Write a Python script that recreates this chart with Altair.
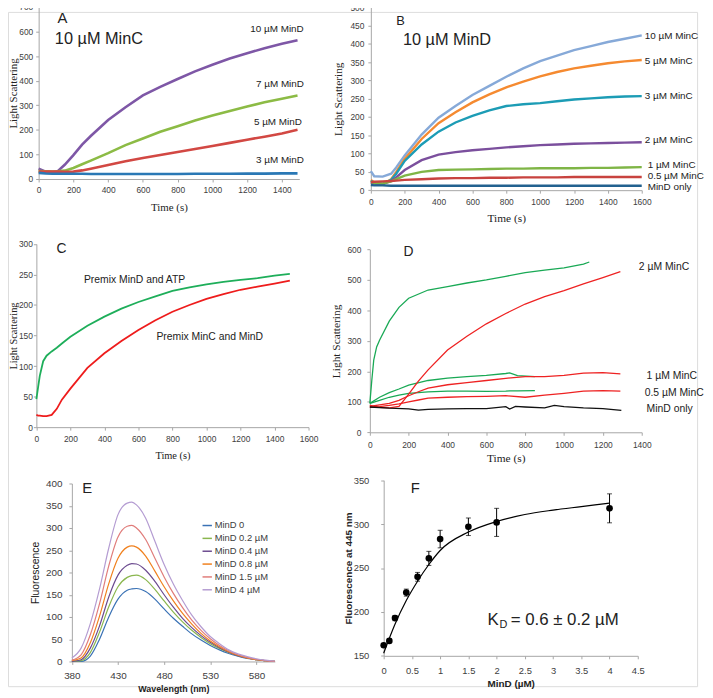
import altair as alt
import pandas as pd

# ---------------- data ----------------
# Panel A : 10 uM MinC, varying MinD
A_TIME = [0, 40, 80, 110, 150, 200, 250, 300, 400, 500, 600, 700, 800, 900, 1000, 1100, 1200, 1300, 1400, 1490]
A_MIND10 = [42, 30, 27, 32, 58, 97, 140, 175, 240, 292, 340, 375, 407, 438, 465, 490, 512, 532, 550, 565]
A_MIND7 = [32, 31, 30, 31, 34, 45, 60, 75, 105, 138, 165, 192, 215, 238, 258, 277, 295, 312, 327, 340]
A_MIND5 = [30, 30, 30, 30, 29, 30, 35, 42, 57, 72, 85, 98, 110, 122, 134, 147, 160, 172, 185, 200]
A_MIND3 = [25, 22, 21, 21, 21, 21, 21, 20, 20, 20, 20, 20, 20, 21, 21, 21, 22, 22, 23, 23]
A_NAMES = ["10 µM MinD", "7 µM MinD", "5 µM MinD", "3 µM MinD"]
A_COLORS = ["#7E57A6", "#8CBB45", "#D24843", "#2A78B5"]

# Panel B : 10 uM MinD, varying MinC
B_TIME = [0, 20, 70, 120, 150, 200, 300, 400, 500, 600, 700, 800, 900, 1000, 1100, 1200, 1300, 1400, 1500, 1600]
B_MINC10 = [52, 38, 37, 45, 62, 95, 152, 198, 230, 260, 285, 310, 333, 353, 368, 383, 394, 405, 414, 423]
B_MINC5 = [28, 22, 17, 30, 50, 85, 140, 183, 213, 240, 262, 281, 297, 311, 323, 333, 340, 347, 352, 356]
B_MINC3 = [25, 20, 17, 28, 45, 80, 125, 160, 185, 203, 218, 230, 235, 238, 243, 248, 251, 254, 256, 257]
B_MINC2 = [20, 18, 17, 25, 35, 55, 82, 97, 104, 109, 113, 117, 120, 123, 125, 127, 128, 129, 130, 131]
B_MINC1 = [22, 20, 18, 24, 30, 40, 50, 55, 56, 57, 58, 59, 59, 60, 60, 60, 61, 61, 62, 63]
B_MINC05 = [22, 23, 24, 25, 26, 28, 30, 32, 33, 33, 34, 34, 35, 35, 35, 36, 36, 36, 36, 36]
B_MINDONLY = [14, 13, 13, 12, 12, 12, 12, 12, 12, 12, 12, 12, 12, 12, 12, 12, 12, 12, 12, 12]
B_NAMES = ["10 µM MinC", "5 µM MinC", "3 µM MinC", "2 µM MinC", "1 µM MinC", "0.5 µM MinC", "MinD only"]
B_COLORS = ["#86A9D8", "#F58A30", "#1C9CB5", "#7B4F9D", "#7FB546", "#C8433F", "#22618F"]

# Panel C : premix order
C_TIME = [0, 10, 20, 40, 60, 90, 120, 150, 200, 300, 400, 500, 600, 700, 800, 900, 1000, 1100, 1200, 1300, 1400, 1490]
C_ATP = [46, 65, 84, 108, 117, 124, 130, 137, 148, 166, 181, 194, 205, 214, 223, 229, 234, 238, 241, 244, 248, 251]
C_MINC = [20, 19, 19, 18, 18, 20, 30, 45, 63, 97, 121, 141, 159, 175, 189, 200, 210, 218, 225, 230, 235, 240]
C_NAMES = ["Premix MinD and ATP", "Premix MinC and MinD"]
C_COLORS = ["#1EAE5A", "#EE1C1C"]

# Panel D
D_TIME_G2 = [0, 10, 20, 35, 50, 100, 150, 200, 300, 400, 500, 600, 700, 800, 900, 1000, 1100, 1130]
D_GREEN2 = [95, 170, 237, 280, 302, 365, 410, 440, 467, 478, 490, 500, 512, 524, 532, 540, 552, 559]
D_TIME_G = [0, 50, 100, 150, 200, 300, 400, 500, 600, 700, 720, 760, 850]
D_GREEN1 = [95, 115, 130, 142, 155, 170, 178, 183, 187, 193, 195, 186, 183]
D_GREEN05 = [95, 105, 115, 122, 128, 133, 135, 135, 134, 135, 136, 136, 137]
D_TIME_R = [0, 50, 100, 150, 200, 250, 300, 400, 500, 600, 700, 800, 900, 1000, 1100, 1200, 1290]
D_RED2 = [88, 82, 80, 85, 125, 168, 205, 270, 315, 356, 390, 421, 445, 465, 487, 508, 527]
D_RED1 = [85, 90, 95, 105, 120, 133, 145, 156, 163, 170, 177, 183, 183, 187, 194, 196, 192]
D_RED05 = [82, 84, 88, 93, 100, 106, 112, 115, 117, 118, 120, 115, 122, 128, 135, 137, 135]
D_TIME_K = [0, 100, 200, 250, 300, 400, 500, 600, 700, 720, 750, 800, 900, 950, 1000, 1100, 1200, 1295]
D_BLACK = [83, 79, 77, 73, 75, 77, 78, 78, 84, 76, 85, 83, 80, 88, 84, 80, 78, 72]
D_GROUPS = ["ATP", "MinC", "none"]
D_COLORS = ["#19A955", "#EE2222", "#111111"]

# Panel E : emission spectra
E_WAVE = [380, 390, 400, 410, 420, 430, 440, 445, 450, 460, 470, 480, 490, 500, 510, 520, 530, 540, 550, 560, 570, 580, 590, 600]
E_M0 = [0, 0, 12, 50, 100, 140, 160, 163, 164, 157, 140, 118, 97, 79, 62, 48, 36, 26, 18, 12, 7, 4, 2, 0]
E_M02 = [0, 2, 20, 66, 123, 168, 189, 193, 194, 184, 162, 136, 111, 89, 70, 54, 40, 29, 20, 13, 8, 4, 2, 0]
E_M04 = [0, 4, 30, 80, 145, 194, 216, 220, 219, 205, 180, 150, 122, 97, 76, 58, 43, 31, 21, 13, 8, 4, 2, 0]
E_M08 = [2, 8, 42, 102, 175, 232, 257, 260, 257, 237, 203, 168, 136, 108, 84, 63, 46, 33, 22, 14, 8, 4, 2, 0]
E_M15 = [3, 15, 60, 130, 215, 280, 304, 306, 300, 274, 232, 190, 153, 121, 93, 70, 51, 36, 24, 15, 9, 5, 2, 0]
E_M4 = [8, 30, 85, 163, 255, 330, 356, 358, 352, 322, 270, 218, 174, 137, 104, 78, 56, 40, 26, 17, 11, 6, 3, 1]
E_NAMES = ["MinD 0", "MinD 0.2  µM", "MinD 0.4  µM", "MinD 0.8  µM", "MinD 1.5  µM", "MinD 4 µM"]
E_COLORS = ["#3A72B5", "#8AB64E", "#6B4A8F", "#F0801E", "#E07C7A", "#B49CD2"]

# Panel F : binding curve
F_MIND = [0, 0.1, 0.2, 0.4, 0.6, 0.8, 1.0, 1.5, 2.0, 4.0]
F_FLUOR = [162, 167, 193, 222, 240, 261, 283, 297, 302, 318]
F_ERR = [0, 2, 3, 4, 5, 8, 10, 10, 16, 16.5]
F_FIT_X = [0, 0.1, 0.2, 0.4, 0.6, 0.8, 1.0, 1.5, 2.0, 2.5, 3.0, 3.5, 4.0]
F_FIT_Y = [153, 170, 186, 213, 235, 254, 270, 291, 303, 311, 316, 320, 324]

# ---------------- layout ----------------
W, H = 697, 682
OFF = 8
AX = "#A6A6A6"
LAB = "#404040"
SANS = "Liberation Sans"
SERIF = "Liberation Serif"


def c(p):
    return p - OFF


# axis positions (page pixels) of each panel
GEO = {
    "A": dict(x0=39, x1=302.6, xdom=[0, 1500], y0=177, y1=3, ydom=[0, 700]),
    "B": dict(x0=375, x1=649, xdom=[0, 1600], y0=188.3, y1=3.3, ydom=[0, 500]),
    "C": dict(x0=36.7, x1=312, xdom=[0, 1600], y0=428, y1=242.7, ydom=[0, 300]),
    "D": dict(x0=374, x1=649, xdom=[0, 1400], y0=433.2, y1=248.3, ydom=[0, 600]),
    "E": dict(x0=72.6, x1=277.9, xdom=[380, 600], y0=665, y1=485, ydom=[0, 400]),
    "F": dict(x0=388, x1=645, xdom=[0, 4.5], y0=659.3, y1=481.7, ydom=[150, 350]),
}


def scales(g):
    xs = alt.Scale(domain=g["xdom"], range=[c(g["x0"]), c(g["x1"])], nice=False, zero=False)
    ys = alt.Scale(domain=g["ydom"], range=[c(g["y0"]), c(g["y1"])], nice=False, zero=False)
    return xs, ys


def axes(g, xvals, yvals, xtitle, ytitle, lsize, tfont, tsize, tweight,
         xlpad, xtpad, ylpad, ytpad, fmt="d", xtsize=None, xtweight=None):
    xa = alt.Axis(orient="bottom", offset=c(g["y0"]) - H, values=xvals, title=xtitle, format=fmt,
                  grid=False, domainColor=AX, tickColor=AX, tickSize=3, labelFont=SANS,
                  labelFontSize=lsize, labelColor=LAB, labelPadding=xlpad, labelFlush=False,
                  labelOverlap=False, titleFont=tfont, titleFontSize=xtsize or tsize,
                  titleFontWeight=xtweight or tweight, titleColor="#222222", titlePadding=xtpad)
    ya = alt.Axis(orient="left", offset=-c(g["x0"]), values=yvals, title=ytitle, format="d",
                  grid=False, domainColor=AX, tickColor=AX, tickSize=3, labelFont=SANS,
                  labelFontSize=lsize, labelColor=LAB, labelPadding=ylpad, labelFlush=False,
                  labelOverlap=False, titleFont=tfont, titleFontSize=tsize, titleFontWeight=tweight,
                  titleColor="#222222", titlePadding=ytpad)
    return xa, ya


def long_df(t, series, names):
    rows = []
    for name, vals in zip(names, series):
        for ti, v in zip(t, vals):
            rows.append({"t": ti, "v": v, "s": name})
    return pd.DataFrame(rows)


def text_layer(g, ax, rows, size, font=SANS, align="center", color="#222222", weight="normal"):
    xs, ys = scales(g)
    xa, ya = ax
    df = pd.DataFrame(rows, columns=["t", "v", "label"])
    return alt.Chart(df).mark_text(align=align, baseline="middle", font=font, fontSize=size,
                                   color=color, fontWeight=weight).encode(
        x=alt.X("t:Q", scale=xs, axis=xa),
        y=alt.Y("v:Q", scale=ys, axis=ya),
        text="label:N")


# ---------- Panel A ----------
g = GEO["A"]
xs, ys = scales(g)
ax = axes(g, list(range(0, 1401, 200)), list(range(0, 701, 100)), "Time (s)", "Light Scattering",
          8.5, SERIF, 11, "normal", 4, 7, 3, 0)
dfA = long_df(A_TIME, [A_MIND10, A_MIND7, A_MIND5, A_MIND3], A_NAMES)
lineA = alt.Chart(dfA).mark_line(strokeWidth=2.6).encode(
    x=alt.X("t:Q", scale=xs, axis=ax[0]), y=alt.Y("v:Q", scale=ys, axis=ax[1]),
    color=alt.Color("s:N", scale=alt.Scale(domain=A_NAMES, range=A_COLORS), legend=None),
    detail="s:N")
panelA = alt.layer(
    lineA,
    text_layer(g, ax, [(1372, 611, "10 µM MinD"), (1389, 386, "7 µM MinD"), (1377, 233, "5 µM MinD"),
                       (1389, 76, "3 µM MinD")], 10),
    text_layer(g, ax, [(137, 656, "A")], 15),
    text_layer(g, ax, [(347, 571, "10 µM MinC")], 16.5),
)

# ---------- Panel B ----------
g = GEO["B"]
xs, ys = scales(g)
ax = axes(g, list(range(0, 1601, 200)), list(range(0, 501, 50)), "Time (s)", "Light Scattering",
          8.5, SERIF, 11.5, "normal", 4, 7, 4, 6)
dfB = long_df(B_TIME, [B_MINC10, B_MINC5, B_MINC3, B_MINC2, B_MINC1, B_MINC05, B_MINDONLY], B_NAMES)
lineB = alt.Chart(dfB).mark_line(strokeWidth=2.4).encode(
    x=alt.X("t:Q", scale=xs, axis=ax[0]), y=alt.Y("v:Q", scale=ys, axis=ax[1]),
    color=alt.Color("s:N", scale=alt.Scale(domain=B_NAMES, range=B_COLORS), legend=None),
    detail="s:N")
panelB = alt.layer(
    lineB,
    text_layer(g, ax, [(1618, 422, "10 µM MinC"), (1618, 354, "5 µM MinC"), (1618, 257, "3 µM MinC"),
                       (1618, 136, "2 µM MinC"), (1635, 68, "1 µM MinC"), (1635, 38.6, "0.5 µM MinC"),
                       (1635, 8.9, "MinD only")], 10, align="left"),
    text_layer(g, ax, [(175, 462, "B")], 13),
    text_layer(g, ax, [(450, 411, "10 µM MinD")], 16.5),
)

# ---------- Panel C ----------
g = GEO["C"]
xs, ys = scales(g)
ax = axes(g, list(range(0, 1601, 200)), list(range(0, 301, 50)), "Time (s)", "Light Scattering",
          8.5, SERIF, 10.5, "normal", 5, 7, 1, 0)
dfC = long_df(C_TIME, [C_ATP, C_MINC], C_NAMES)
lineC = alt.Chart(dfC).mark_line(strokeWidth=1.8).encode(
    x=alt.X("t:Q", scale=xs, axis=ax[0]), y=alt.Y("v:Q", scale=ys, axis=ax[1]),
    color=alt.Color("s:N", scale=alt.Scale(domain=C_NAMES, range=C_COLORS), legend=None),
    detail="s:N")
panelC = alt.layer(
    lineC,
    text_layer(g, ax, [(577, 241, "Premix MinD and ATP"), (1019, 147, "Premix MinC and MinD")], 10.5),
    text_layer(g, ax, [(147, 291, "C")], 14),
)

# ---------- Panel D ----------
g = GEO["D"]
xs, ys = scales(g)
ax = axes(g, list(range(0, 1401, 200)), list(range(0, 601, 100)), "Time (s)", "Light Scattering",
          8.5, SERIF, 11.5, "normal", 5, 4, 6, 6)
dD = []
for t, vals, name, grp in [(D_TIME_G2, D_GREEN2, "g2", "ATP"), (D_TIME_G, D_GREEN1, "g1", "ATP"),
                           (D_TIME_G, D_GREEN05, "g05", "ATP"), (D_TIME_R, D_RED2, "r2", "MinC"),
                           (D_TIME_R, D_RED1, "r1", "MinC"), (D_TIME_R, D_RED05, "r05", "MinC"),
                           (D_TIME_K, D_BLACK, "k", "none")]:
    for ti, v in zip(t, vals):
        dD.append({"t": ti, "v": v, "s": name, "grp": grp})
dfD = pd.DataFrame(dD)
lineD = alt.Chart(dfD).mark_line(strokeWidth=1.3).encode(
    x=alt.X("t:Q", scale=xs, axis=ax[0]), y=alt.Y("v:Q", scale=ys, axis=ax[1]),
    color=alt.Color("grp:N", scale=alt.Scale(domain=D_GROUPS, range=D_COLORS), legend=None),
    detail="s:N")
panelD = alt.layer(
    lineD,
    text_layer(g, ax, [(1385, 542, "2 µM MinC"), (1425, 185, "1 µM MinC"), (1415, 130, "0.5 µM MinC"),
                       (1425, 75, "MinD only")], 10.5, align="left"),
    text_layer(g, ax, [(199, 590, "D")], 14),
)

# ---------- Panel E ----------
g = GEO["E"]
xs, ys = scales(g)
ax = axes(g, list(range(380, 581, 50)), list(range(0, 401, 50)), "Wavelength (nm)", "Fluorescence",
          10, SANS, 10.5, "normal", 6, 4, 7, 5, xtsize=9, xtweight="bold")
dfE = long_df(E_WAVE, [E_M0, E_M02, E_M04, E_M08, E_M15, E_M4], E_NAMES)
lineE = alt.Chart(dfE).mark_line(strokeWidth=1.2, interpolate="monotone").encode(
    x=alt.X("t:Q", scale=xs, axis=ax[0]), y=alt.Y("v:Q", scale=ys, axis=ax[1]),
    color=alt.Color("s:N", scale=alt.Scale(domain=E_NAMES, range=E_COLORS),
                    legend=alt.Legend(orient="none", legendX=c(204), legendY=c(522), title=None,
                                      symbolType="stroke", symbolSize=90, symbolStrokeWidth=1.5,
                                      labelFont=SANS, labelFontSize=9.5, labelColor=LAB,
                                      rowPadding=3, labelOffset=2)),
    detail="s:N")
panelE = alt.layer(lineE, text_layer(g, ax, [(396.5, 389, "E")], 15))

# ---------- Panel F ----------
g = GEO["F"]
xs, ys = scales(g)
ax = axes(g, [0, 0.5, 1, 1.5, 2, 2.5, 3, 3.5, 4, 4.5], list(range(150, 351, 50)), "MinD (µM)",
          "Fluorescence at 445 nm", 9.5, SANS, 10, "bold", 7, 4, 12, 0, fmt="~g")
dfF = pd.DataFrame({"t": F_MIND, "v": F_FLUOR, "lo": [a - b for a, b in zip(F_FLUOR, F_ERR)],
                    "hi": [a + b for a, b in zip(F_FLUOR, F_ERR)]})
dfFit = pd.DataFrame({"t": F_FIT_X, "v": F_FIT_Y})
fit = alt.Chart(dfFit).mark_line(color="black", strokeWidth=1.2, interpolate="monotone").encode(
    x=alt.X("t:Q", scale=xs, axis=ax[0]), y=alt.Y("v:Q", scale=ys, axis=ax[1]))
err = alt.Chart(dfF).mark_rule(color="black", strokeWidth=1).encode(
    x=alt.X("t:Q", scale=xs, axis=ax[0]), y=alt.Y("lo:Q", scale=ys, axis=ax[1]), y2="hi:Q")
capLo = alt.Chart(dfF).mark_tick(color="black", orient="horizontal", size=5, thickness=1).encode(
    x=alt.X("t:Q", scale=xs, axis=ax[0]), y=alt.Y("lo:Q", scale=ys, axis=ax[1]))
capHi = alt.Chart(dfF).mark_tick(color="black", orient="horizontal", size=5, thickness=1).encode(
    x=alt.X("t:Q", scale=xs, axis=ax[0]), y=alt.Y("hi:Q", scale=ys, axis=ax[1]))
pts = alt.Chart(dfF).mark_circle(color="black", size=45, opacity=1).encode(
    x=alt.X("t:Q", scale=xs, axis=ax[0]), y=alt.Y("v:Q", scale=ys, axis=ax[1]))
panelF = alt.layer(
    fit, err, capLo, capHi, pts,
    text_layer(g, ax, [(0.56, 341, "F")], 15),
    text_layer(g, ax, [(1.84, 190.5, "K")], 17, align="left"),
    text_layer(g, ax, [(2.05, 185, "D")], 11, align="left"),
    text_layer(g, ax, [(2.25, 190.5, "= 0.6 ± 0.2 µM")], 17, align="left"),
)

chart = alt.layer(panelA, panelB, panelC, panelD, panelE, panelF).resolve_scale(
    x="independent", y="independent", color="independent"
).resolve_axis(x="independent", y="independent").properties(
    width=W, height=H, autosize=alt.AutoSizeParams(type="none"),
    padding={"left": 0, "top": 0, "right": 8, "bottom": 8}
).configure_view(strokeWidth=0).configure(background="white")

chart.save("out.html", embed_options={"renderer": "svg", "actions": False})
